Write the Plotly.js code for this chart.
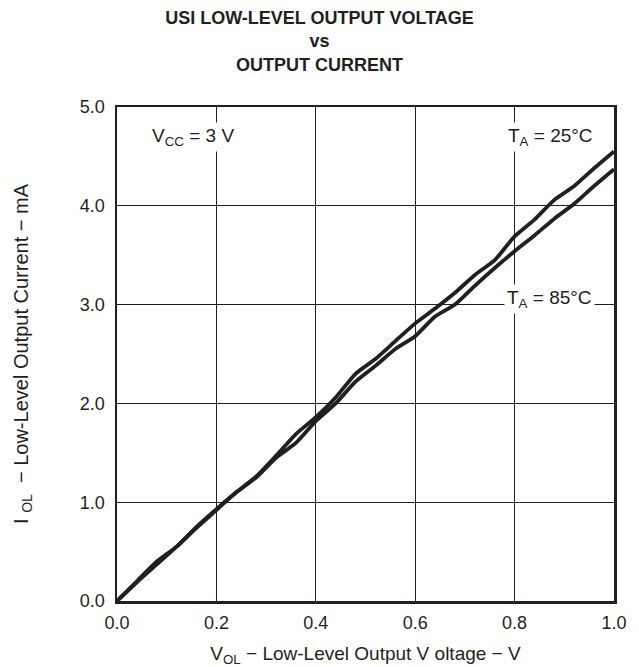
<!DOCTYPE html>
<html>
<head>
<meta charset="utf-8">
<script src="https://cdn.plot.ly/plotly-3.0.1.min.js"></script>
<style>html,body{margin:0;padding:0;background:#fff;}#chart{width:639px;height:667px;}</style>
</head>
<body>
<div id="chart"></div>
<script>
// Output voltage V_OL (V)
const vol = [0, 0.04, 0.08, 0.12, 0.16, 0.2, 0.24, 0.28, 0.32, 0.36, 0.4, 0.44, 0.48, 0.52, 0.56, 0.6, 0.64, 0.68, 0.72, 0.76, 0.8, 0.84, 0.88, 0.92, 0.96, 1.0];
// I_OL (mA) at TA = 25°C
const iol25 = [0, 0.2, 0.4, 0.55, 0.75, 0.93, 1.1, 1.26, 1.47, 1.69, 1.86, 2.06, 2.3, 2.45, 2.63, 2.81, 2.96, 3.12, 3.3, 3.45, 3.69, 3.86, 4.06, 4.2, 4.38, 4.55];
// I_OL (mA) at TA = 85°C
const iol85 = [0, 0.19, 0.37, 0.55, 0.74, 0.92, 1.1, 1.25, 1.45, 1.6, 1.82, 2.0, 2.22, 2.38, 2.55, 2.68, 2.88, 3.0, 3.19, 3.37, 3.54, 3.7, 3.87, 4.02, 4.2, 4.37];
const xTicks = [0, 0.2, 0.4, 0.6, 0.8, 1.0];
const xTickText = ["0.0", "0.2", "0.4", "0.6", "0.8", "1.0"];
const yTicks = [0, 1, 2, 3, 4, 5];
const yTickText = ["0.0", "1.0", "2.0", "3.0", "4.0", "5.0"];

const lineStyle = {color: '#231f20', width: 3.8, shape: 'spline', smoothing: 0.6};
const data = [
  {x: vol, y: iol25, mode: 'lines', line: lineStyle, name: 'TA = 25°C', hoverinfo: 'skip'},
  {x: vol, y: iol85, mode: 'lines', line: lineStyle, name: 'TA = 85°C', hoverinfo: 'skip'}
];
const fam = '"Liberation Sans", Arial, sans-serif';
const font = {family: fam, size: 18, color: '#231f20'};
const font19 = {family: fam, size: 19, color: '#231f20'};
const font20 = {family: fam, size: 20, color: '#231f20'};
const layout = {
  width: 639, height: 667,
  margin: {l: 117, r: 25, t: 107, b: 66},
  paper_bgcolor: '#fff', plot_bgcolor: '#fff',
  showlegend: false,
  font: font,
  title: {
    text: '<b>USI LOW-LEVEL OUTPUT VOLTAGE<br>vs<br>OUTPUT CURRENT</b>',
    x: 0.5, xref: 'container', xanchor: 'center',
    y: 1 - 24 / 667, yref: 'container', yanchor: 'middle',
    font: {family: fam, size: 18, color: '#231f20'}
  },
  xaxis: {
    range: [0, 1.0], tickvals: xTicks, ticktext: xTickText,
    showgrid: true, gridcolor: '#231f20', gridwidth: 1,
    zeroline: false, showline: true, linecolor: '#231f20', linewidth: 2.5, mirror: true,
    ticks: '', tickfont: font, ticklabelstandoff: 4,
    title: {text: 'V<sub>OL</sub> − Low-Level Output V oltage − V', font: font19, standoff: 18},
    fixedrange: true
  },
  yaxis: {
    range: [0, 5.0], tickvals: yTicks, ticktext: yTickText,
    showgrid: true, gridcolor: '#231f20', gridwidth: 1,
    zeroline: false, showline: true, linecolor: '#231f20', linewidth: 2.5, mirror: true,
    ticks: '', tickfont: font, ticklabelstandoff: 6,
    title: {text: 'I&nbsp;<sub>OL</sub>&nbsp;&nbsp;−&nbsp;Low-Level Output Current − mA', font: font20, standoff: 46},
    fixedrange: true
  },
  annotations: [
    {x: 0.153, y: 4.7, xref: 'x', yref: 'y', text: 'V<sub>CC</sub> = 3 V', showarrow: false,
     bgcolor: '#fff', font: font19, borderpad: 2},
    {x: 0.872, y: 4.7, xref: 'x', yref: 'y', text: 'T<sub>A</sub> = 25°C', showarrow: false,
     bgcolor: '#fff', font: font19, borderpad: 2},
    {x: 0.87, y: 3.06, xref: 'x', yref: 'y', text: 'T<sub>A</sub> = 85°C', showarrow: false,
     bgcolor: '#fff', font: font19, borderpad: 2}
  ]
};
Plotly.newPlot('chart', data, layout, {staticPlot: true, displayModeBar: false});
</script>
</body>
</html>
